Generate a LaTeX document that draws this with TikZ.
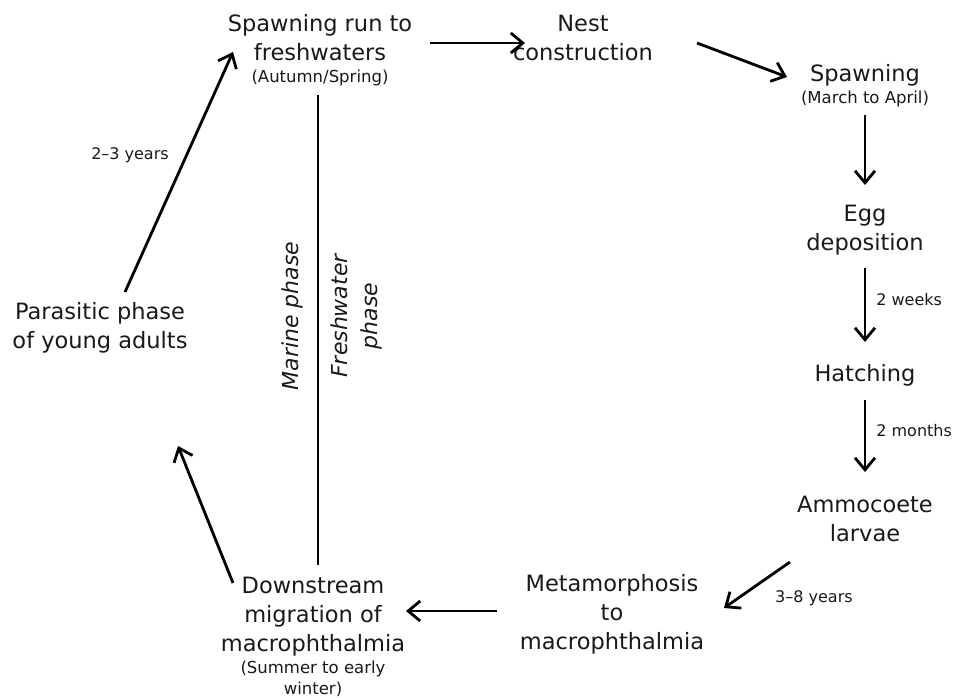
\documentclass[tikz,border=0pt]{standalone}
\usepackage{fontspec}
\setmainfont{DejaVu Sans}
\usetikzlibrary{arrows.meta}
\newcommand{\subf}{\fontsize{16.5}{20}\selectfont}
\begin{document}
\begin{tikzpicture}[x=1pt,y=-1pt,
  stage/.style={font=\fontsize{22.5}{29}\selectfont, align=center, inner sep=0pt, text=black!90},
  lab/.style={font=\fontsize{16}{20}\selectfont, inner sep=0pt, text=black!90},
  phase/.style={font=\fontsize{22}{30}\selectfont\itshape, align=center, inner sep=0pt, rotate=90, text=black!90},
  arr/.style={line width=2.8pt, -{Straight Barb[length=12pt,width=20pt]}},
  divider/.style={line width=2.8pt}]
\useasboundingbox (0,0) rectangle (954,697);

\node[stage] (sr) at (320,50) {Spawning run to\\freshwaters\\[-7pt]{\subf (Autumn/Spring)}};
\node[stage] (nest) at (583,38) {Nest\\construction};
\node[stage] (spawn) at (865,86) {Spawning\\[-7pt]{\subf (March to April)}};
\node[stage] (egg) at (865,230) {Egg\\deposition};
\node[stage] (hatch) at (865,375) {Hatching};
\node[stage] (ammo) at (865,519) {Ammocoete\\larvae};
\node[stage] (meta) at (612,614) {Metamorphosis\\to\\macrophthalmia};
\node[stage] (down) at (313,637) {Downstream\\migration of\\macrophthalmia\\[-7pt]{\subf (Summer to early}\\[-8pt]{\subf winter)}};
\node[stage] (para) at (100,328) {Parasitic phase\\of young adults};

\node[phase] (marine) at (292,316) {Marine phase};
\node[phase] (fresh) at (356,316) {Freshwater\\phase};
\coordinate (vtop) at (318,95);
\coordinate (vbot) at (318,565);
\draw[divider] (vtop) -- (vbot);

\draw[arr] ([shift={(110,-7)}]sr.center) -- ([shift={(-58,5)}]nest.center);
\draw[arr] ([shift={(114,5)}]nest.center) -- ([shift={(-78,-9)}]spawn.center);
\draw[arr] ([shift={(0,29)}]spawn.center) -- ([shift={(0,-45)}]egg.center);
\draw[arr] ([shift={(0,38)}]egg.center) -- ([shift={(0,-33)}]hatch.center)
  node[lab, pos=0.42, anchor=west, xshift=10pt] (l1) {2 weeks};
\draw[arr] ([shift={(0,25)}]hatch.center) -- ([shift={(0,-47)}]ammo.center)
  node[lab, pos=0.42, anchor=west, xshift=10pt] (l2) {2 months};
\draw[arr] ([shift={(-75,43)}]ammo.center) -- ([shift={(112,-6)}]meta.center);
\node[lab, anchor=west] (l3) at (775,598) {3–8 years};
\draw[arr] ([shift={(-115,-3)}]meta.center) -- ([shift={(93,-26)}]down.center);
\draw[arr] ([shift={(-80,-54)}]down.center) -- ([shift={(78,118)}]para.center);
\draw[arr] ([shift={(25,-36)}]para.center) -- ([shift={(-87,2)}]sr.center);
\node[lab] (l4) at (130,155) {2–3 years};
\end{tikzpicture}
\end{document}
